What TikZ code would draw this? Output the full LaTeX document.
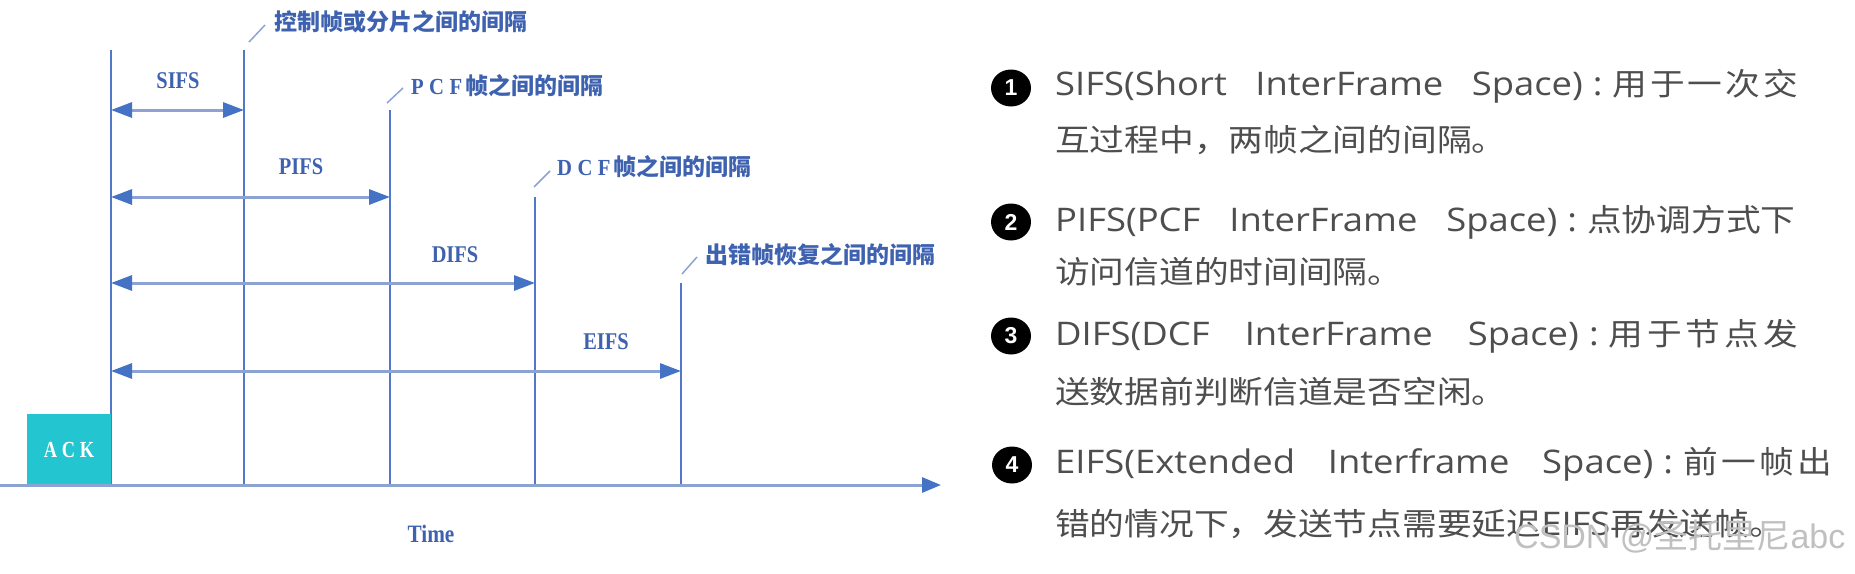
\documentclass[tikz,border=0pt]{standalone}
\usepackage{fontspec}
\setmainfont{Liberation Serif}
\newfontfamily\cjk{Noto Sans CJK SC}
\newfontfamily\lat{Open Sans}
\newfontfamily\serf{Liberation Serif}
\newfontfamily\wmf{Liberation Sans}
\usetikzlibrary{arrows.meta,shapes.geometric}
\definecolor{lineblue}{RGB}{84,120,200}
\definecolor{shaftblue}{RGB}{140,163,211}
\definecolor{headblue}{RGB}{68,114,196}
\definecolor{lblblue}{RGB}{62,98,176}
\definecolor{ackcyan}{RGB}{34,197,208}
\definecolor{txtgray}{RGB}{78,78,78}
\definecolor{wmgray}{RGB}{192,192,192}
\tikzset{
  vline/.style={draw=lineblue, line width=1.3pt},
  dimarrow/.style={draw=shaftblue, line width=3pt,
    {Triangle[length=21pt,width=15pt,color=headblue]}-{Triangle[length=21pt,width=15pt,color=headblue]}},
  axisline/.style={draw=shaftblue, line width=3pt,
    -{Triangle[length=19pt,width=15pt,color=headblue]}},
  tickline/.style={draw=shaftblue, line width=1.5pt},
  abbr/.style={inner sep=0pt, text=lblblue, font={\serf\bfseries\fontsize{24}{28}\selectfont}},
  note/.style={anchor=west, inner sep=0pt, text=lblblue, font={\cjk\bfseries\fontsize{23}{28}\selectfont}},
  ackbox/.style={fill=ackcyan, minimum width=84pt, minimum height=71pt, inner sep=0pt,
    text=white, font={\serf\bfseries\fontsize{23}{28}\selectfont}},
  numdot/.style={ellipse, fill=black, minimum width=40pt, minimum height=37pt, inner sep=0pt,
    text=white, font={\wmf\bfseries\fontsize{23}{26}\selectfont}},
  desc/.style={anchor=base west, inner sep=0pt, text=txtgray, font={\lat\fontsize{32.5}{36}\selectfont}},
  wmark/.style={anchor=base west, inner sep=0pt, text=wmgray, font={\wmf\fontsize{34}{40}\selectfont}}
}
\newcommand{\lsp}{\hspace{6pt}}
\newcommand{\wide}[1]{\scalebox{1.12}[1]{#1}}
\newcommand{\cln}{\hspace{9pt}:\hspace{9pt}}
\newcommand{\zh}[1]{{\cjk\fontsize{31}{36}\selectfont #1}}
\newcommand{\ws}{\hskip 0.26em plus 1fil\relax}
\newcommand{\cs}{\hskip 0pt plus 0.15fil\relax}
\begin{document}
\begin{tikzpicture}[x=1pt,y=-1pt]
\useasboundingbox (0,0) rectangle (1855,573);
\fill[white] (0,0) rectangle (1855,573);

% vertical marker lines
\coordinate (t0) at (111,50);  \coordinate (b0) at (111,485);
\coordinate (t1) at (244,50);  \coordinate (b1) at (244,485);
\coordinate (t2) at (390,110); \coordinate (b2) at (390,485);
\coordinate (t3) at (535,197); \coordinate (b3) at (535,487);
\coordinate (t4) at (681,283); \coordinate (b4) at (681,485);
\draw[vline] (t0) -- (b0);
\draw[vline] (t1) -- (b1);
\draw[vline] (t2) -- (b2);
\draw[vline] (t3) -- (b3);
\draw[vline] (t4) -- (b4);

% ACK box
\node[ackbox] (ack) at (69,449.5) {\scalebox{0.8}[1]{A\lsp C\lsp K}};

% time axis
\coordinate (ax0) at (0,485);
\coordinate (ax1) at (941,485);
\draw[axisline] (ax0) -- (ax1);
\node[abbr, font={\serf\bfseries\fontsize{25}{28}\selectfont}] (time) at (431,534) {\scalebox{0.85}[1]{Time}};

% dimension arrows
\coordinate (s0) at (111,110); \coordinate (s1) at (244,110);
\coordinate (p0) at (111,197); \coordinate (p1) at (390,197);
\coordinate (d0) at (111,283); \coordinate (d1) at (535,283);
\coordinate (e0) at (111,371); \coordinate (e1) at (681,371);
\draw[dimarrow] (s0) -- (s1);
\draw[dimarrow] (p0) -- (p1);
\draw[dimarrow] (d0) -- (d1);
\draw[dimarrow] (e0) -- (e1);
\node[abbr] (sifs) at (178,81) {\scalebox{0.85}[1]{SIFS}};
\node[abbr] (pifs) at (301,167) {\scalebox{0.85}[1]{PIFS}};
\node[abbr] (difs) at (455,255) {\scalebox{0.85}[1]{DIFS}};
\node[abbr] (eifs) at (606,342) {\scalebox{0.85}[1]{EIFS}};

% annotation ticks and labels
\coordinate (k1a) at (249,42);  \coordinate (k1b) at (265,25);
\coordinate (k2a) at (387,103); \coordinate (k2b) at (403,88);
\coordinate (k3a) at (534,187); \coordinate (k3b) at (550,171);
\coordinate (k4a) at (682,274); \coordinate (k4b) at (697,257);
\draw[tickline] (k1a) -- (k1b);
\draw[tickline] (k2a) -- (k2b);
\draw[tickline] (k3a) -- (k3b);
\draw[tickline] (k4a) -- (k4b);
\node[note] (n1) at (274,22) {控制帧或分片之间的间隔};
\node[note] (n2) at (411,86) {{\serf\bfseries\scalebox{0.9}[1]{P\lsp C\lsp F}}\hspace{3pt}帧之间的间隔};
\node[note] (n3) at (557,167) {{\serf\bfseries\scalebox{0.9}[1]{D\lsp C\lsp F}}\hspace{3pt}帧之间的间隔};
\node[note] (n4) at (705,255) {出错帧恢复之间的间隔};

% right-hand list
\node[numdot] (b1n) at (1011,88) {1};
\node[numdot] (b2n) at (1011,222) {2};
\node[numdot] (b3n) at (1011,336) {3};
\node[numdot] (b4n) at (1012,465) {4};

\node[desc] (l1) at (1055,95)  {\wide{\makebox[663pt][s]{SIFS(Short\ws InterFrame\ws Space)\cln\zh{用\cs 于\cs 一\cs 次\cs 交}}}};
\node[desc] (l2) at (1055,151) {\wide{\zh{互过程中，两帧之间的间隔。}}};
\node[desc] (l3) at (1055,231) {\wide{\makebox[661pt][s]{PIFS(PCF\ws InterFrame\ws Space)\cln\zh{点协调方式下}}}};
\node[desc] (l4) at (1055,283) {\wide{\zh{访问信道的时间间隔。}}};
\node[desc] (l5) at (1055,345) {\wide{\makebox[663pt][s]{DIFS(DCF\ws InterFrame\ws Space)\cln\zh{用\cs 于\cs 节\cs 点\cs 发}}}};
\node[desc] (l6) at (1055,403) {\wide{\zh{送数据前判断信道是否空闲。}}};
\node[desc] (l7) at (1055,473) {\wide{\makebox[694pt][s]{EIFS(Extended\ws Interframe\ws Space)\cln\zh{前\cs 一\cs 帧\cs 出}}}};
\node[desc] (l8) at (1055,535) {\wide{\zh{错的情况下，发送节点需要延迟}EIFS\zh{再发送帧。}}};

% watermark
\node[wmark] (wm) at (1514,548) {CSDN @{\cjk 圣托里尼}abc};
\end{tikzpicture}
\end{document}
